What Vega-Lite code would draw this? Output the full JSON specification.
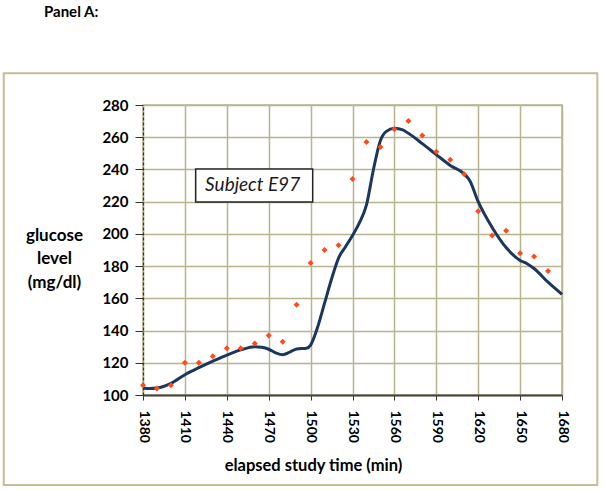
{
  "$schema": "https://vega.github.io/schema/vega-lite/v6.json",
  "width": 419,
  "height": 290,
  "autosize": "none",
  "padding": {"left": 143, "top": 105, "right": 42, "bottom": 95},
  "background": "white",
  "title": {"text": "Panel A:", "anchor": "start", "frame": "group", "font": "Lato", "fontSize": 15, "fontWeight": "bold", "color": "#000000", "dx": -99, "offset": 52},
  "datasets": {
    "measured": [
      {"time": 1380, "glucose": 106}, {"time": 1390, "glucose": 104}, {"time": 1400, "glucose": 106},
      {"time": 1410, "glucose": 120}, {"time": 1420, "glucose": 120}, {"time": 1430, "glucose": 124},
      {"time": 1440, "glucose": 129}, {"time": 1450, "glucose": 129}, {"time": 1460, "glucose": 132},
      {"time": 1470, "glucose": 137}, {"time": 1480, "glucose": 133}, {"time": 1490, "glucose": 156},
      {"time": 1500, "glucose": 182}, {"time": 1510, "glucose": 190}, {"time": 1520, "glucose": 193},
      {"time": 1530, "glucose": 234}, {"time": 1540, "glucose": 257}, {"time": 1550, "glucose": 254},
      {"time": 1560, "glucose": 265}, {"time": 1570, "glucose": 270}, {"time": 1580, "glucose": 261},
      {"time": 1590, "glucose": 251}, {"time": 1600, "glucose": 246}, {"time": 1610, "glucose": 237},
      {"time": 1620, "glucose": 214}, {"time": 1630, "glucose": 199}, {"time": 1640, "glucose": 202},
      {"time": 1650, "glucose": 188}, {"time": 1660, "glucose": 186}, {"time": 1670, "glucose": 177}
    ],
    "curve": [
      {"time": 1380, "glucose": 104.2}, {"time": 1385, "glucose": 104}, {"time": 1390, "glucose": 104.3},
      {"time": 1400, "glucose": 107.2}, {"time": 1410, "glucose": 112.6}, {"time": 1420, "glucose": 117},
      {"time": 1430, "glucose": 121}, {"time": 1440, "glucose": 124.8}, {"time": 1450, "glucose": 128},
      {"time": 1460, "glucose": 130}, {"time": 1465, "glucose": 129.6}, {"time": 1470, "glucose": 128.4},
      {"time": 1475, "glucose": 126.2}, {"time": 1480, "glucose": 125}, {"time": 1485, "glucose": 126.6},
      {"time": 1490, "glucose": 128.6}, {"time": 1497, "glucose": 129}, {"time": 1500, "glucose": 131},
      {"time": 1505, "glucose": 142}, {"time": 1510, "glucose": 157}, {"time": 1515, "glucose": 172},
      {"time": 1520, "glucose": 185}, {"time": 1525, "glucose": 192}, {"time": 1530, "glucose": 199},
      {"time": 1535, "glucose": 207}, {"time": 1540, "glucose": 218}, {"time": 1545, "glucose": 240},
      {"time": 1550, "glucose": 258}, {"time": 1554, "glucose": 263.5}, {"time": 1560, "glucose": 265.5},
      {"time": 1566, "glucose": 264.5}, {"time": 1570, "glucose": 262.4}, {"time": 1580, "glucose": 256},
      {"time": 1590, "glucose": 249.2}, {"time": 1600, "glucose": 242.5}, {"time": 1610, "glucose": 237.2},
      {"time": 1614, "glucose": 233}, {"time": 1620, "glucose": 220}, {"time": 1630, "glucose": 204},
      {"time": 1640, "glucose": 191.5}, {"time": 1650, "glucose": 183.5}, {"time": 1655, "glucose": 181.5},
      {"time": 1660, "glucose": 178.5}, {"time": 1670, "glucose": 170}, {"time": 1680, "glucose": 162.5}
    ],
    "one": [{"label": "Subject E97"}]
  },
  "layer": [
    {
      "data": {"name": "curve"},
      "mark": {"type": "line", "interpolate": "monotone", "color": "#1c375e", "strokeWidth": 3},
      "encoding": {
        "x": {"field": "time", "type": "quantitative", "scale": {"domain": [1380, 1680], "nice": false, "zero": false},
          "axis": {"values": [1380, 1410, 1440, 1470, 1500, 1530, 1560, 1590, 1620, 1650, 1680], "format": "d", "labelOverlap": false, "title": "elapsed study time (min)"}},
        "y": {"field": "glucose", "type": "quantitative", "scale": {"domain": [100, 280], "nice": false, "zero": false},
          "axis": {"values": [100, 120, 140, 160, 180, 200, 220, 240, 260, 280], "tickCount": 10, "format": "d", "labelOverlap": false, "title": ["glucose", "level", "(mg/dl)"]}}
      }
    },
    {
      "data": {"name": "one"},
      "mark": {"type": "rect", "fillOpacity": 0, "stroke": "#c4bd96", "strokeWidth": 2, "clip": false},
      "encoding": {
        "x": {"datum": 1280.3, "type": "quantitative"},
        "x2": {"datum": 1705.3},
        "y": {"datum": 299.7, "type": "quantitative"},
        "y2": {"datum": 44.1}
      }
    },
    {
      "data": {"name": "one"},
      "mark": {"type": "rect", "fill": "white", "stroke": "#222222", "strokeWidth": 1.5},
      "encoding": {
        "x": {"datum": 1417.7, "type": "quantitative"},
        "x2": {"datum": 1501.5},
        "y": {"datum": 240.3, "type": "quantitative"},
        "y2": {"datum": 219.8}
      }
    },
    {
      "data": {"name": "one"},
      "mark": {"type": "text", "font": "Lato", "fontSize": 19, "fontStyle": "italic", "color": "#1a1a1a", "align": "center", "baseline": "middle"},
      "encoding": {
        "text": {"field": "label"},
        "x": {"datum": 1458.5, "type": "quantitative"},
        "y": {"datum": 230.3, "type": "quantitative"}
      }
    },
    {
      "data": {"name": "measured"},
      "mark": {"type": "point", "shape": "diamond", "filled": true, "size": 36, "color": "#ff4a1a", "opacity": 1},
      "encoding": {
        "x": {"field": "time", "type": "quantitative"},
        "y": {"field": "glucose", "type": "quantitative"}
      }
    }
  ],
  "config": {
    "view": {"stroke": "#b9b48e", "strokeWidth": 1.5},
    "axis": {
      "labelFont": "Lato", "labelFontSize": 14, "labelFontWeight": "bold", "labelColor": "#000000",
      "titleFont": "Lato", "titleFontSize": 16.5, "titleFontWeight": "bold", "titleColor": "#000000",
      "grid": true, "gridColor": "#b9b48e", "gridWidth": 1.5,
      "tickColor": "#333333", "domainColor": "#333333"
    },
    "axisX": {
      "labelAngle": 90, "labelPadding": 10, "tickSize": 5, "domainWidth": 2, "domainColor": "#444444",
      "titleX": 170, "titleAlign": "center", "titleY": 70, "titleBaseline": "middle"
    },
    "axisY": {
      "labelFontSize": 15,
      "domainDash": [3, 2], "domainWidth": 1.2, "tickSize": 8, "labelPadding": 7,
      "titleAngle": 0, "titleAlign": "center", "titleBaseline": "middle", "titleX": -89, "titleY": 130, "titleLineHeight": 23.5,
      "titleFontSize": 17
    }
  }
}
